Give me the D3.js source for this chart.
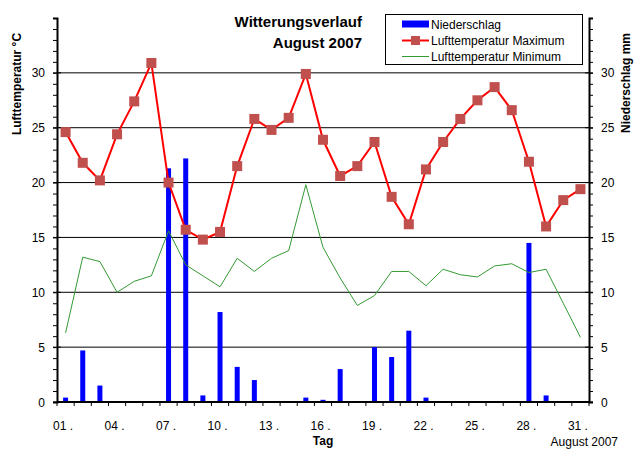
<!DOCTYPE html>
<html><head><meta charset="utf-8">
<script src="https://cdn.jsdelivr.net/npm/d3@7"></script>
<style>body{margin:0;background:#fff}svg{display:block;font-family:Arial,"Liberation Sans",sans-serif}</style>
</head><body>
<svg id="chart" width="642" height="455"></svg>
<script>
const days = d3.range(1, 32);
const tMax = [24.6,21.8,20.2,24.4,27.4,30.9,20.0,15.7,14.8,15.5,21.5,25.8,24.8,25.9,29.9,23.9,20.6,21.5,23.7,18.7,16.2,21.2,23.7,25.8,27.5,28.7,26.6,21.9,16.0,18.4,19.4];
const tMin = [6.3,13.2,12.8,10.0,11.0,11.5,15.6,12.5,11.5,10.5,13.1,11.9,13.1,13.8,19.8,14.1,11.3,8.8,9.7,11.9,11.9,10.6,12.1,11.6,11.4,12.4,12.6,11.8,12.1,9.0,5.9];
const rain = [0.4,4.7,1.5,0,0,0,21.3,22.2,0.6,8.2,3.2,2.0,0,0,0.4,0.2,3.0,0,5.0,4.1,6.5,0.4,0,0,0,0,0,14.5,0.6,0,0];
const yTicks = [0,5,10,15,20,25,30];
const xLabelDays = [1,4,7,10,13,16,19,22,25,28,31];
const seriesNames = ["Niederschlag","Lufttemperatur Maximum","Lufttemperatur Minimum"];

const svg = d3.select("#chart");
const L = 57, R = 589, T = 18, B = 402;
const x = d3.scaleBand().domain(days).range([L, R]);
const yT = d3.scaleLinear().domain([0, 35]).range([B, T]);
const yR = d3.scaleLinear().domain([0, 35]).range([B, T]);
const cx = d => x(d) + x.bandwidth() / 2;

// grid lines
svg.append("g").selectAll("line").data(yTicks.filter(v => v > 0)).join("line")
  .attr("x1", L).attr("x2", R).attr("y1", d => yT(d)).attr("y2", d => yT(d))
  .attr("stroke", "#000").attr("stroke-width", 1);

// bars
svg.append("g").selectAll("rect").data(days).join("rect")
  .attr("x", d => cx(d) - 2.5).attr("width", 5)
  .attr("y", (d, i) => yR(rain[i])).attr("height", (d, i) => B - yR(rain[i]))
  .attr("fill", "#0000ff");

// min line
svg.append("path").datum(tMin)
  .attr("d", d3.line().x((v, i) => cx(days[i])).y(v => yT(v)))
  .attr("fill", "none").attr("stroke", "#339933").attr("stroke-width", 1);

// max line
svg.append("path").datum(tMax)
  .attr("d", d3.line().x((v, i) => cx(days[i])).y(v => yT(v)))
  .attr("fill", "none").attr("stroke", "#ff0000").attr("stroke-width", 2);
svg.append("g").selectAll("rect").data(tMax).join("rect")
  .attr("x", (v, i) => cx(days[i]) - 5).attr("y", v => yT(v) - 5)
  .attr("width", 10).attr("height", 10).attr("fill", "#c0504d");

// axes
const minor = d3.range(0, 36);
const leftAx = d3.axisLeft(yT).tickValues(minor).tickSize(4).tickFormat("");
const gL = svg.append("g").attr("transform", `translate(${L},0)`).call(leftAx);
const rightAx = d3.axisRight(yR).tickValues(minor).tickSize(4).tickFormat("");
const gR = svg.append("g").attr("transform", `translate(${R},0)`).call(rightAx);
[gL, gR].forEach(g => {
  g.select(".domain").attr("stroke", "#000").attr("stroke-width", 2);
  g.selectAll(".tick line").attr("stroke", "#000");
});
// major ticks crossing
svg.append("g").selectAll("line").data(yTicks).join("line")
  .attr("x1", L - 4).attr("x2", L + 4).attr("y1", d => yT(d)).attr("y2", d => yT(d)).attr("stroke", "#000");
svg.append("g").selectAll("line").data(yTicks).join("line")
  .attr("x1", R - 4).attr("x2", R + 4).attr("y1", d => yR(d)).attr("y2", d => yR(d)).attr("stroke", "#000");

svg.append("g").selectAll("text").data(yTicks).join("text")
  .attr("x", 45).attr("y", d => yT(d) + 4.5).attr("text-anchor", "end")
  .attr("font-size", 12).text(d => d);
svg.append("g").selectAll("text").data(yTicks).join("text")
  .attr("x", 601).attr("y", d => yR(d) + 4.5).attr("text-anchor", "start")
  .attr("font-size", 12).text(d => d);

// x axis
const gB = svg.append("g").attr("transform", `translate(0,${B})`);
gB.append("line").attr("x1", L).attr("x2", R).attr("stroke", "#000").attr("stroke-width", 2);
gB.selectAll("line.t").data(days.concat([32])).join("line").attr("class", "t")
  .attr("x1", d => d <= 31 ? x(d) : R).attr("x2", d => d <= 31 ? x(d) : R)
  .attr("y1", 0).attr("y2", 4).attr("stroke", "#000");
svg.append("g").selectAll("text").data(xLabelDays).join("text")
  .attr("x", d => cx(d) - 12.5).attr("y", 430).attr("font-size", 12)
  .text(d => String(d).padStart(2, "0") + " .");
svg.append("text").attr("x", 323).attr("y", 445).attr("text-anchor", "middle")
  .attr("font-size", 12).attr("font-weight", "bold").text("Tag");
svg.append("text").attr("x", 618).attr("y", 446).attr("text-anchor", "end")
  .attr("font-size", 12).text("August 2007");

// axis titles
svg.append("text").attr("transform", "translate(21,84) rotate(-90)").attr("text-anchor", "middle")
  .attr("font-size", 12).attr("font-weight", "bold").text("Lufttemperatur °C");
svg.append("text").attr("transform", "translate(630,83) rotate(-90)").attr("text-anchor", "middle")
  .attr("font-size", 12).attr("font-weight", "bold").text("Niederschlag  mm");

// title
svg.append("text").attr("x", 362).attr("y", 27).attr("text-anchor", "end")
  .attr("font-size", 15).attr("font-weight", "bold").text("Witterungsverlauf");
svg.append("text").attr("x", 362).attr("y", 48).attr("text-anchor", "end")
  .attr("font-size", 15).attr("font-weight", "bold").text("August 2007");

// legend
const lg = svg.append("g");
lg.append("rect").attr("x", 385.5).attr("y", 14.5).attr("width", 197).attr("height", 50)
  .attr("fill", "#fff").attr("stroke", "#000");
const ly = [24, 40.5, 56.5];
lg.append("rect").attr("x", 402).attr("y", ly[0] - 3.5).attr("width", 27).attr("height", 7).attr("fill", "#0000ff");
lg.append("line").attr("x1", 402).attr("x2", 429).attr("y1", ly[1]).attr("y2", ly[1]).attr("stroke", "#ff0000").attr("stroke-width", 2);
lg.append("rect").attr("x", 411).attr("y", ly[1] - 4.5).attr("width", 9).attr("height", 9).attr("fill", "#c0504d");
lg.append("line").attr("x1", 402).attr("x2", 429).attr("y1", ly[2]).attr("y2", ly[2]).attr("stroke", "#339933").attr("stroke-width", 1);
lg.selectAll("text").data(seriesNames).join("text")
  .attr("x", 431).attr("y", (d, i) => ly[i] + 4.5).attr("font-size", 12).text(d => d);
</script>
</body></html>
